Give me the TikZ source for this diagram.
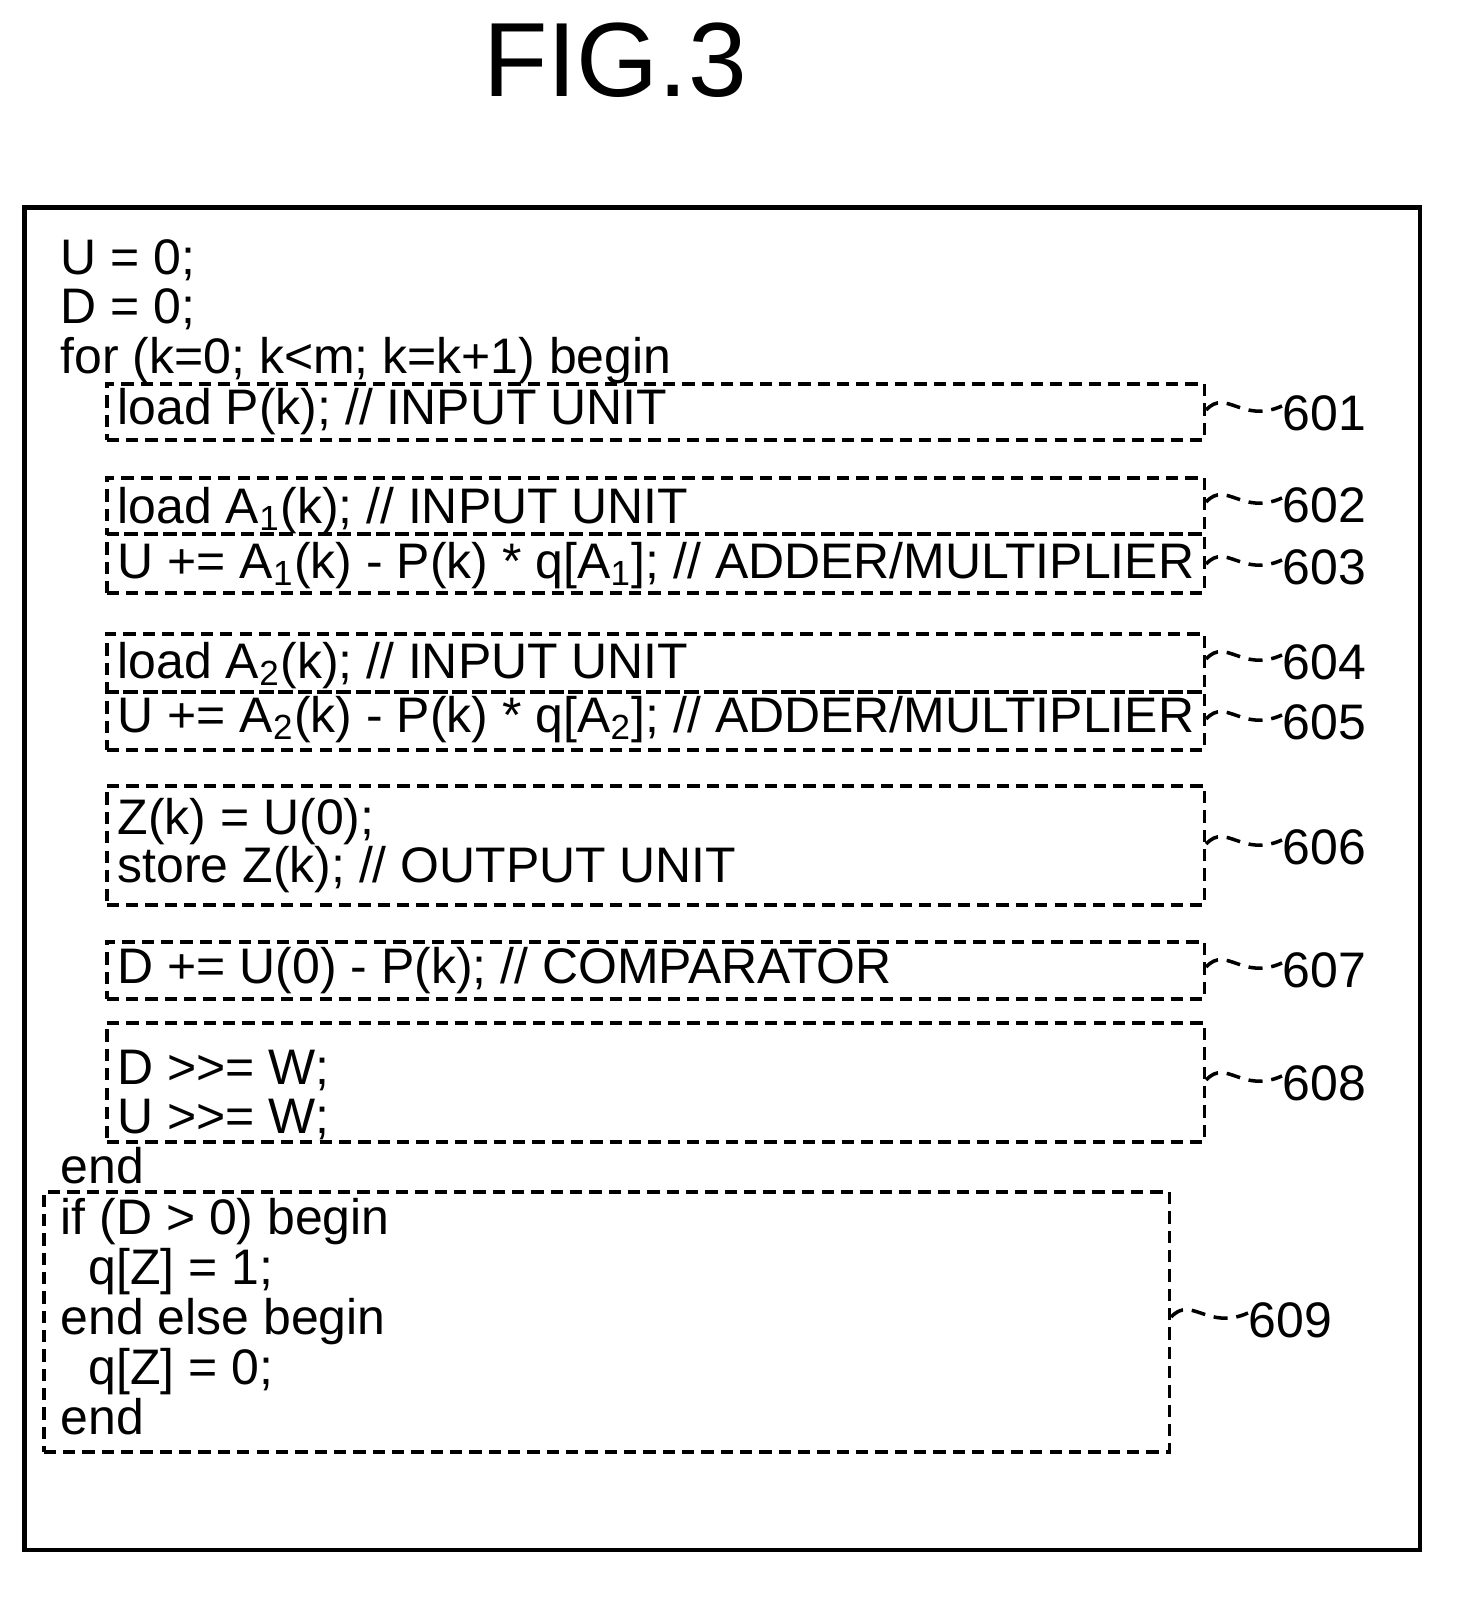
\documentclass[tikz,border=0pt]{standalone}
\usepackage{fontspec}
\setmainfont{Liberation Sans}
\usetikzlibrary{positioning}

\tikzset{
  code/.style={anchor=base west,inner sep=0pt,font=\fontsize{14.2}{16}\selectfont},
  dbox/.style={draw,line width=1pt,anchor=north west,inner sep=0pt,dash pattern=on 3.5pt off 2pt},
  ref/.style={anchor=west,inner sep=0pt,font=\fontsize{14.2}{16}\selectfont},
  leader/.style={line width=1pt,dash pattern=on 4pt off 2.5pt}
}

\begin{document}
\begin{tikzpicture}[x=0.01cm,y=-0.01cm]
  \path[use as bounding box] (0,0) rectangle (1483,1618);
  \node[font=\fontsize{30}{32}\selectfont,inner sep=0pt] (title) at (615,60) {FIG.3};
  \node[draw,line width=1.3pt,anchor=north west,minimum width=13.95cm,minimum height=13.42cm,inner sep=0pt] (frame) at (22,205) {};

  % code outside the boxes
  \node[code] (l1) at (60,274) {U = 0;};
  \node[code] (l2) at (60,323) {D = 0;};
  \node[code] (l3) at (60,373) {for (k=0; k<m; k=k+1) begin};
  \node[code] (l4) at (60,1183) {end};

  % dashed boxes: name/top/height/label y
  \foreach \n/\t/\h/\ly in {601/382/56/413, 602/476/56/505, 603/532/59/567,
                           604/632/58/662, 605/690/58/722, 606/784/119/847,
                           607/940/57/970, 608/1021/119/1083}{
    \node[dbox,minimum width=10.97cm,minimum height=\h*0.01cm] (b\n) at (105,\t) {};
    \node[ref] (r\n) at (1282,\ly) {\n};
    \draw[leader] (b\n.east |- r\n.west) ++(0,-3) .. controls ++(20,-22) and ++(-40,18) .. ([yshift=2pt]r\n.west);
  }

  \node[code] (c601) at (117,424) {load P(k); // INPUT UNIT};
  \node[code] (c602) at (117,523) {load A\textsubscript{1}(k); // INPUT UNIT};
  \node[code] (c603) at (117,578) {U += A\textsubscript{1}(k) - P(k) * q[A\textsubscript{1}]; // ADDER/MULTIPLIER};
  \node[code] (c604) at (117,678) {load A\textsubscript{2}(k); // INPUT UNIT};
  \node[code] (c605) at (117,732) {U += A\textsubscript{2}(k) - P(k) * q[A\textsubscript{2}]; // ADDER/MULTIPLIER};
  \node[code] (c606a) at (117,834) {Z(k) = U(0);};
  \node[code] (c606b) at (117,882) {store Z(k); // OUTPUT UNIT};
  \node[code] (c607) at (117,983) {D += U(0) - P(k); // COMPARATOR};
  \node[code] (c608a) at (117,1084) {D >{}>= W;};
  \node[code] (c608b) at (117,1133) {U >{}>= W;};

  % final decision box
  \node[dbox,minimum width=11.25cm,minimum height=2.60cm] (b609) at (42,1190) {};
  \node[ref] (r609) at (1248,1320) {609};
  \draw[leader] (b609.east |- r609.west) ++(0,-3) .. controls ++(20,-22) and ++(-40,18) .. ([yshift=2pt]r609.west);
  \node[code] (c609a) at (60,1234) {if (D > 0) begin};
  \node[code] (c609b) at (88,1284) {q[Z] = 1;};
  \node[code] (c609c) at (60,1334) {end else begin};
  \node[code] (c609d) at (88,1384) {q[Z] = 0;};
  \node[code] (c609e) at (60,1434) {end};
\end{tikzpicture}
\end{document}
